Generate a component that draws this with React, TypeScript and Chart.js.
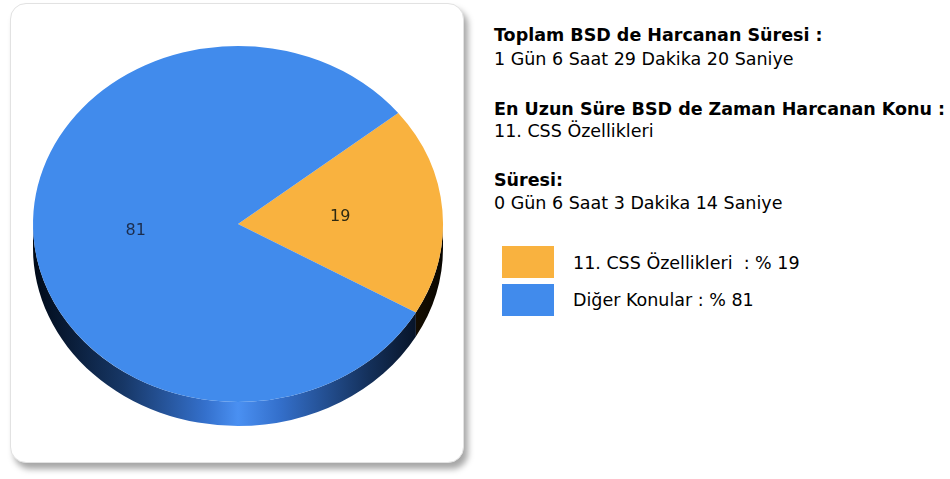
import React, { useEffect, useRef } from "react";
import { Chart, registerables } from "chart.js";
Chart.register(...registerables);

const categories = ["11. CSS Özellikleri", "Diğer Konular"];
const values = [19, 81];
const sliceColors = ["#f9b23f", "#418bec"];
const labelColors = ["#2e2a12", "#1c2d4d"];
const sideStops = [
  ["#0d0800", "#3a2606", "#8a5c14", "#f9b23f", "#8a5c14", "#2e1e04", "#080500"],
  ["#000a18", "#173766", "#3470cc", "#4a90f2", "#3470cc", "#14305a", "#00040c"],
];
const infoTitles = ["Toplam BSD de Harcanan Süresi :", "En Uzun Süre BSD de Zaman Harcanan Konu :", "Süresi:"];
const infoValues = ["1 Gün 6 Saat 29 Dakika 20 Saniye", "11. CSS Özellikleri", "0 Gün 6 Saat 3 Dakika 14 Saniye"];
const legendTexts = ["11. CSS Özellikleri  : % 19", "Diğer Konular : % 81"];

const FONT = '"DejaVu Sans", sans-serif';
const TILT = 178 / 205;
const DEPTH = 24;

const pie3d = {
  id: "pie3d",
  beforeDatasetsDraw(chart: any) {
    const meta = chart.getDatasetMeta(0);
    const arcs = meta.data;
    const ctx = chart.ctx;
    ctx.save();
    if (!arcs.length) return;
    const p = arcs[0].getProps(["x", "y", "outerRadius"], true);
    const cx = p.x, cy = p.y, r = p.outerRadius;
    ctx.translate(cx, cy);
    ctx.scale(1, TILT);
    ctx.translate(-cx, -cy);
    const d = DEPTH / TILT;
    arcs.forEach((arc: any, i: number) => {
      const a = arc.getProps(["startAngle", "endAngle"], true);
      const g = ctx.createLinearGradient(cx - r, 0, cx + r, 0);
      const st = sideStops[i];
      const pos = [0, 0.22, 0.42, 0.5, 0.6, 0.82, 1];
      st.forEach((c, k) => g.addColorStop(pos[k], c));
      for (let k = -1; k <= 1; k++) {
        const s = a.startAngle + 2 * Math.PI * k;
        const e = a.endAngle + 2 * Math.PI * k;
        const a1 = Math.max(s, 0);
        const a2 = Math.min(e, Math.PI);
        if (a2 > a1) {
          ctx.beginPath();
          ctx.arc(cx, cy, r, a1, a2);
          ctx.arc(cx, cy + d, r, a2, a1, true);
          ctx.closePath();
          ctx.fillStyle = g;
          ctx.fill();
        }
      }
    });
  },
  afterDatasetsDraw(chart: any) {
    const ctx = chart.ctx;
    ctx.restore();
    const meta = chart.getDatasetMeta(0);
    const arcs = meta.data;
    if (!arcs.length) return;
    const cy = arcs[0].y;
    ctx.save();
    ctx.font = `16px ${FONT}`;
    ctx.textAlign = "center";
    ctx.textBaseline = "middle";
    arcs.forEach((arc: any, i: number) => {
      const tp = arc.tooltipPosition(true);
      ctx.fillStyle = labelColors[i];
      ctx.fillText(String(values[i]), tp.x, cy + (tp.y - cy) * TILT);
    });
    ctx.restore();
  },
};

export default function App() {
  const ref = useRef<HTMLCanvasElement>(null);
  useEffect(() => {
    if (!ref.current) return;
    const chart = new Chart(ref.current, {
      type: "pie",
      data: {
        labels: categories,
        datasets: [
          {
            data: values,
            backgroundColor: sliceColors,
            borderWidth: 0,
            clip: false,
          } as any,
        ],
      },
      options: {
        animation: false,
        responsive: false,
        devicePixelRatio: 1,
        rotation: 51.4,
        layout: { padding: { left: 33, right: 27, top: 19, bottom: 50 } },
        plugins: { legend: { display: false }, tooltip: { enabled: false } },
      } as any,
      plugins: [pie3d],
    });
    return () => chart.destroy();
  }, []);

  const lineStyle = (top: number, bold: boolean): React.CSSProperties => ({
    position: "absolute",
    left: 494,
    top,
    height: 20,
    lineHeight: "20px",
    fontSize: 17.5,
    fontWeight: bold ? "bold" : "normal",
    color: "#000",
    whiteSpace: "nowrap",
    fontFamily: FONT,
  });
  const titleCenters = [35, 109, 180];
  const valueCenters = [59, 131, 203];
  const legendCenters = [263, 300];

  return (
    <div style={{ position: "absolute", left: 0, top: 0, width: 950, height: 479, background: "#fff", overflow: "hidden" }}>
      <div
        style={{
          position: "absolute",
          left: 10,
          top: 3,
          width: 454,
          height: 460,
          boxSizing: "border-box",
          border: "1px solid #e2e2e2",
          borderRadius: 16,
          background: "#fff",
          boxShadow: "4px 6px 6px rgba(0,0,0,0.35)",
        }}
      />
      <canvas ref={ref} width={470} height={479} style={{ position: "absolute", left: 0, top: 0, width: 470, height: 479 }} />
      {infoTitles.map((t, i) => (
        <div key={"t" + i} style={lineStyle(titleCenters[i] - 10, true)}>{t}</div>
      ))}
      {infoValues.map((t, i) => (
        <div key={"v" + i} style={lineStyle(valueCenters[i] - 10, false)}>{t}</div>
      ))}
      {legendTexts.map((t, i) => (
        <React.Fragment key={"l" + i}>
          <div
            style={{
              position: "absolute",
              left: 502,
              top: 246 + i * 38,
              width: 52,
              height: 32,
              background: sliceColors[i],
            }}
          />
          <div style={{ ...lineStyle(legendCenters[i] - 10, false), left: 573, whiteSpace: "pre" }}>{t}</div>
        </React.Fragment>
      ))}
    </div>
  );
}
